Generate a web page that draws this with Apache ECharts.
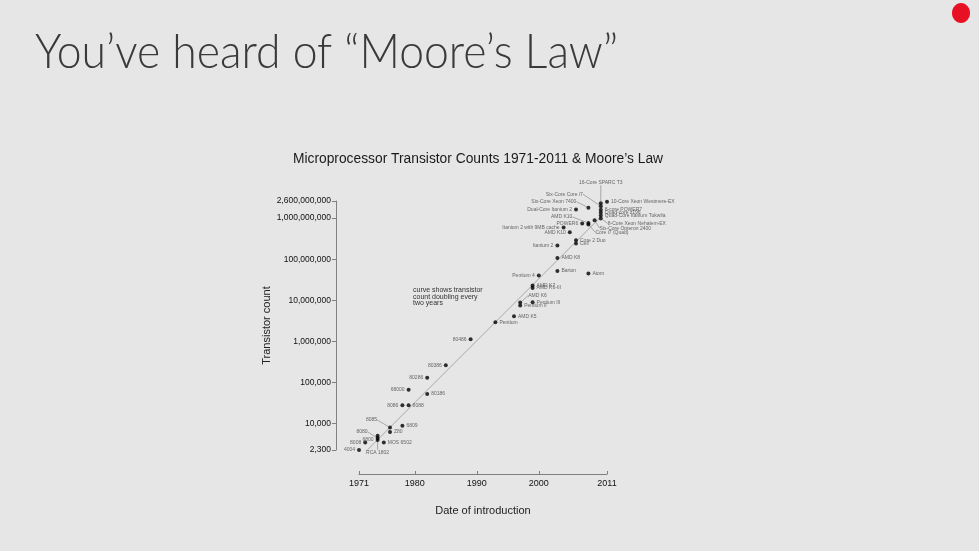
<!DOCTYPE html>
<html><head><meta charset="utf-8">
<script src="https://cdn.jsdelivr.net/npm/echarts/dist/echarts.min.js"></script>
<style>html,body{margin:0;padding:0;background:#e6e6e6;}#c{width:979px;height:551px;}</style>
</head><body><div id="c"></div>
<script>
// ---- data ----
const names = ['4004','8008','8080','RCA 1802','6800','MOS 6502','Z80','8085','6809','8086','8088','68000','80186','80286','80386','80486','Pentium','AMD K5','Pentium II','AMD K6','Pentium III','AMD K6-III','AMD K7','Pentium 4','Barton','Atom','AMD K8','Itanium 2','Cell','Core 2 Duo','Itanium 2 with 9MB cache','AMD K10','POWER6','AMD K10','Core i7 (Quad)','Six-Core Opteron 2400','Dual-Core Itanium 2','Six-Core Xeon 7400','Six-Core Core i7','16-Core SPARC T3','10-Core Xeon Westmere-EX','8-core POWER7','Quad-core z196','Quad-Core Itanium Tukwila','8-Core Xeon Nehalem-EX'];
const years = [1971,1972,1974,1974,1974,1975,1976,1976,1978,1978,1979,1979,1982,1982,1985,1989,1993,1996,1997,1997,1999,1999,1999,2000,2003,2008,2003,2003,2006,2006,2004,2005,2007,2008,2008,2009,2006,2008,2010,2010,2011,2010,2010,2010,2010];
const counts = [2300,3500,4500,5100,4000,3500,6300,8100,8900,28000,28000,67000,52500,131000,266000,1140000,2940000,4100000,7500000,8800000,9000000,20000000,23000000,40000000,52000000,45000000,107000000,214000000,240000000,290000000,594000000,450000000,740000000,760000000,700000000,890000000,1620000000,1790000000,1950000000,2300000000,2500000000,1600000000,1360000000,1150000000,980000000];
const mooreYears = [1971, 2010];
const mooreCounts = [1440, 1070000000];
const yTickValues = [2300,10000,100000,1000000,10000000,100000000,1000000000,2600000000];
const xTickValues = [1971,1980,1990,2000,2011];

// ---- label placement (style only): [position, dx, dy, leaderLine] ----
const place = [
 ['left',0,0],['left',0,0],['left',-6,-6,1],['bottom',0,10,1],['left',3,-16.5],['right',0,0],['right',0,0],['left',-9,-7.7,1],['right',0,0],['left',0,0],
 ['right',0,0],['left',0,0],['right',0,0],['left',0,0],['left',0,0],['left',0,0],['right',0,0],['right',0,0],['right',0,0],['right',4,-7,1],
 ['right',0,0],['right',0,1.5],['right',0,-1.5],['left',0,0],['right',0,0],['right',0,0],['right',0,0],['left',0,0],['right',0,0],['right',0,0],
 ['left',-5,0],['left',0,0],['left',0,0],['left',-12,-6,1],['right',3,8,1],['right',1,8,1],['left',-3,0],['left',-8,-6,1],['left',-14,-12,1],['top',0,-14,1],
 ['right',0,0],['right',5,0],['right',5,1],['right',5,2.8],['right',3,5,1]
];

const L = Math.log10;
const axisFont = "'Liberation Sans',Arial,sans-serif";

const pts = names.map((n,i)=>{
  const p = place[i];
  const lead = !!p[3];
  return {
    name: n,
    value: [years[i], L(counts[i])],
    label: { position: p[0], offset: lead ? [0,0] : [p[1], p[2]] },
    labelLine: { show: lead }
  };
});

function fmtTick(v){
  let best = yTickValues[0];
  yTickValues.forEach(t=>{ if (Math.abs(L(t)-v) < Math.abs(L(best)-v)) best = t; });
  return best.toLocaleString('en-US');
}

// slide title with measured horizontal scale
const titleText = 'You\u2019ve heard of \u201CMoore\u2019s Law\u201D';
const titleFont = '300 47px Lato';
const cv = document.createElement('canvas').getContext('2d');
cv.font = titleFont;
const tw = cv.measureText(titleText).width;
const sx = 583 / tw;

const chart = echarts.init(document.getElementById('c'));
chart.setOption({
  backgroundColor: '#e6e6e6',
  animation: false,
  title: {
    text: 'Microprocessor Transistor Counts 1971-2011 & Moore\u2019s Law',
    left: 473, top: 147, textAlign: 'center',
    textStyle: { fontFamily: 'Liberation Sans', fontSize: 13.8, fontWeight: 'normal', color: '#1a1a1a' }
  },
  grid: { left: 359, top: 201, width: 248, height: 249 },
  xAxis: {
    type: 'value', min: 1971, max: 2011, offset: 24,
    axisLine: { lineStyle: { color: '#808080', width: 1 } },
    axisTick: { inside: true, length: 3, customValues: xTickValues, lineStyle: { color: '#808080' } },
    axisLabel: { customValues: xTickValues, margin: 5, fontSize: 9, fontFamily: axisFont, color: '#111', formatter: v => String(Math.round(v)) },
    splitLine: { show: false },
    name: 'Date of introduction', nameLocation: 'middle', nameGap: 31,
    nameTextStyle: { fontFamily: 'Liberation Sans', fontSize: 11, color: '#222' }
  },
  yAxis: {
    type: 'value', min: L(yTickValues[0]), max: L(yTickValues[yTickValues.length-1]), offset: 23,
    axisLine: { show: true, lineStyle: { color: '#808080', width: 1 } },
    axisTick: { show: true, length: 4, customValues: yTickValues.map(L), lineStyle: { color: '#808080' } },
    axisLabel: { customValues: yTickValues.map(L), margin: 5, fontSize: 8.5, fontFamily: axisFont, color: '#111', formatter: fmtTick },
    splitLine: { show: false },
    name: 'Transistor count', nameLocation: 'middle', nameGap: 58, nameRotate: 90,
    nameTextStyle: { fontFamily: 'Liberation Sans', fontSize: 11, color: '#222' }
  },
  series: [
    {
      type: 'line', silent: true, symbol: 'none', z: 1,
      data: mooreYears.map((y,i)=>[y, L(mooreCounts[i])]),
      lineStyle: { color: '#a8a8a8', width: 1 }
    },
    {
      type: 'scatter', z: 3, symbol: 'circle', symbolSize: 4,
      itemStyle: { color: '#000' },
      data: pts,
      label: { show: true, formatter: '{b}', fontSize: 5, fontFamily: 'Liberation Sans', color: '#444', distance: 2 },
      labelLine: { lineStyle: { color: '#666', width: 0.5 }, length2: 0 },
      labelLayout: p => { const q = place[p.dataIndex]; return q[3] ? { dx: q[1], dy: q[2] } : {}; }
    }
  ],
  graphic: [
    { type: 'text', x: 35, y: 29, scaleX: sx, style: { text: titleText, font: titleFont, fill: '#3a3a3a', verticalAlign: 'top' } },
    { type: 'text', left: 413, top: 287, style: { text: 'curve shows transistor\ncount doubling every\ntwo years', font: '7px Liberation Sans', fill: '#333', lineHeight: 6.5 } },
    { type: 'ellipse', shape: { cx: 961, cy: 13, rx: 9, ry: 10 }, style: { fill: '#e81123' } }
  ]
});
</script></body></html>
